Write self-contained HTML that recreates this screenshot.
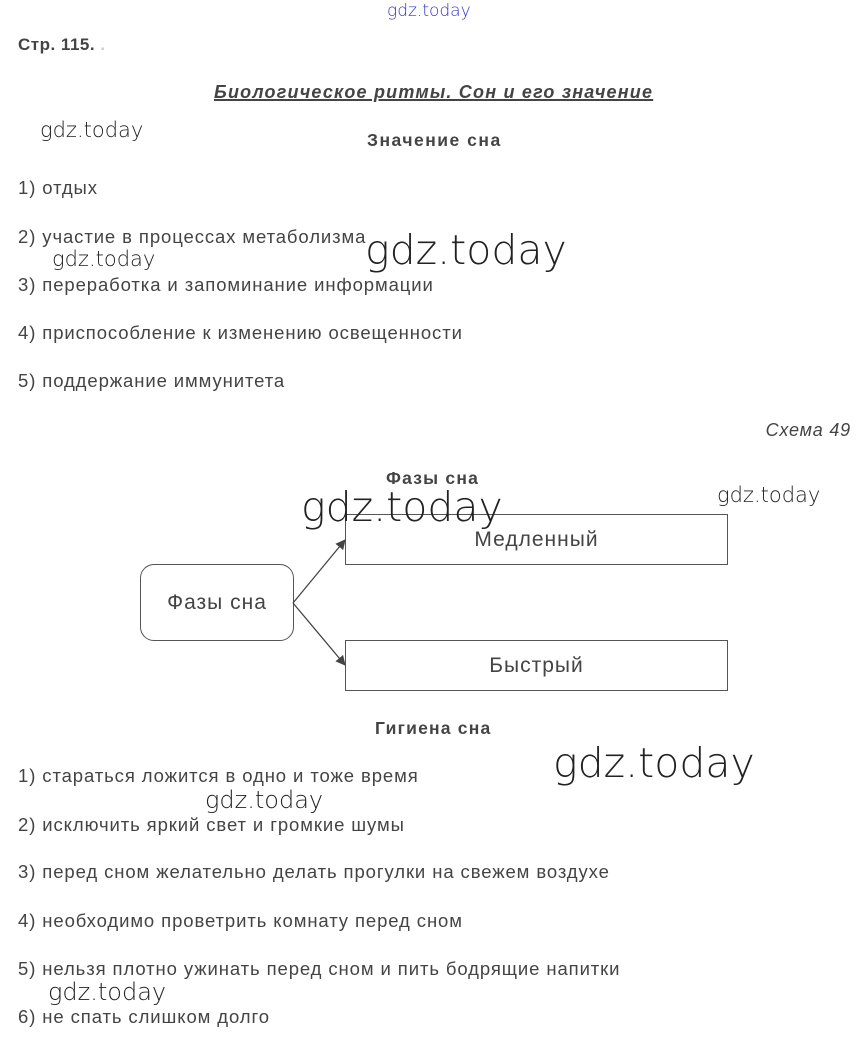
<!DOCTYPE html>
<html><head><meta charset="utf-8"><style>
body{margin:0;width:859px;height:1053px;background:#fff;position:relative;overflow:hidden;font-family:"Liberation Sans",sans-serif;color:#444}
.t{position:absolute;white-space:nowrap;line-height:22px}
.l{font-size:18.5px;left:18px;letter-spacing:0.9px}
.b{font-weight:bold}
.w{position:absolute;white-space:nowrap;color:#222;font-family:"DejaVu Sans","Liberation Sans",sans-serif;font-weight:300;line-height:1}
.box{position:absolute;border:1px solid #555;box-sizing:border-box;display:flex;align-items:center;justify-content:center;font-size:21px;letter-spacing:1px;color:#444}
</style></head><body>
<div class="w" style="left:387px;top:3px;font-size:17px;color:#3333cc">gdz.today</div>
<div class="t b" style="left:18px;top:34px;font-size:17px;letter-spacing:0.5px">Стр. 115. <span style="color:#ccc">.</span></div>
<div class="t b" style="left:214px;top:81px;font-size:18px;letter-spacing:1.2px;font-style:italic;text-decoration:underline;text-decoration-thickness:2px">Биологическое ритмы. Сон и его значение</div>
<div class="w" style="left:40px;top:120px;font-size:21px">gdz.today</div>
<div class="t b" style="left:367px;top:129px;font-size:17.5px;letter-spacing:1.5px">Значение сна</div>
<div class="t l" style="top:177px">1) отдых</div>
<div class="t l" style="top:226px">2) участие в процессах метаболизма</div>
<div class="w" style="left:365px;top:230px;font-size:41px">gdz.today</div>
<div class="w" style="left:52px;top:249px;font-size:21px">gdz.today</div>
<div class="t l" style="top:274px">3) переработка и запоминание информации</div>
<div class="t l" style="top:322px">4) приспособление к изменению освещенности</div>
<div class="t l" style="top:370px">5) поддержание иммунитета</div>
<div class="t" style="right:8px;top:419px;font-size:18px;letter-spacing:0.8px;font-style:italic">Схема 49</div>
<div class="t b" style="left:386px;top:467px;font-size:17.5px;letter-spacing:1.2px">Фазы сна</div>
<div class="w" style="left:717px;top:485px;font-size:21px">gdz.today</div>
<div class="box" style="left:345px;top:514px;width:383px;height:51px">Медленный</div>
<div class="box" style="left:345px;top:640px;width:383px;height:51px">Быстрый</div>
<div class="box" style="left:140px;top:564px;width:154px;height:77px;border-radius:14px">Фазы сна</div>
<div class="w" style="left:301px;top:487px;font-size:41px">gdz.today</div>
<svg style="position:absolute;left:0;top:0" width="859" height="1053">
<defs><marker id="a" markerWidth="10" markerHeight="10" refX="9" refY="5" orient="auto" markerUnits="userSpaceOnUse"><path d="M0,0 L10,5 L0,10 z" fill="#444"/></marker></defs>
<line x1="293" y1="603" x2="345" y2="540" stroke="#444" stroke-width="1.3" marker-end="url(#a)"/>
<line x1="293" y1="603" x2="345" y2="665" stroke="#444" stroke-width="1.3" marker-end="url(#a)"/>
</svg>
<div class="t b" style="left:375px;top:717px;font-size:17.5px;letter-spacing:1.2px">Гигиена сна</div>
<div class="w" style="left:553px;top:743px;font-size:41px">gdz.today</div>
<div class="t l" style="top:765px">1) стараться ложится в одно и тоже время</div>
<div class="w" style="left:205px;top:788px;font-size:24px">gdz.today</div>
<div class="t l" style="top:814px">2) исключить яркий свет и громкие шумы</div>
<div class="t l" style="top:861px">3) перед сном желательно делать прогулки на свежем воздухе</div>
<div class="t l" style="top:910px">4) необходимо проветрить комнату перед сном</div>
<div class="t l" style="top:958px">5) нельзя плотно ужинать перед сном и пить бодрящие напитки</div>
<div class="w" style="left:48px;top:980px;font-size:24px">gdz.today</div>
<div class="t l" style="top:1006px">6) не спать слишком долго</div>
</body></html>
